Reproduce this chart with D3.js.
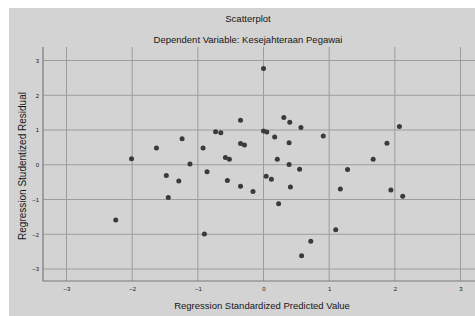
<!DOCTYPE html>
<html>
<head>
<meta charset="utf-8">
<script src="https://cdn.jsdelivr.net/npm/d3@7"></script>
<style>
  body { margin: 0; background: #fff; }
  svg text { font-family: "Liberation Sans", Arial, sans-serif; fill: #161616; }
</style>
</head>
<body>
<div id="chart"></div>
<script>
// standardized predicted value (x) vs studentized residual (y)
var predicted = [
  0.00, -0.35, 0.31, 0.40, -0.73, -0.65, 0.00, 0.05, 0.17, -1.24,
  -0.35, -0.29, 0.39, -1.63, -0.92, -2.01, -0.58, -0.52, 0.21, -1.12,
  0.39, 0.55, -1.48, -0.86, -1.29, -0.55, 0.04, 0.12, -0.35, -0.16,
  0.41, -1.45, 0.23, -2.25, -0.90, 0.57, 0.91, 2.07, 1.88, 1.67,
  1.28, 1.17, 1.94, 2.12, 1.10, 0.72, 0.58
];
var residual = [
  2.77, 1.28, 1.36, 1.22, 0.95, 0.92, 0.97, 0.94, 0.80, 0.75,
  0.61, 0.57, 0.63, 0.48, 0.48, 0.17, 0.21, 0.16, 0.16, 0.02,
  0.01, -0.13, -0.31, -0.20, -0.47, -0.45, -0.33, -0.42, -0.62, -0.77,
  -0.64, -0.94, -1.12, -1.59, -1.99, 1.07, 0.83, 1.10, 0.62, 0.16,
  -0.14, -0.70, -0.73, -0.91, -1.87, -2.20, -2.62
];
var xTicks = [-3, -2, -1, 0, 1, 2, 3];
var yTicks = [-3, -2, -1, 0, 1, 2, 3];

var title = 'Scatterplot';
var subtitle = 'Dependent Variable: Kesejahteraan Pegawai';
var xTitle = 'Regression Standardized Predicted Value';
var yTitle = 'Regression Studentized Residual';

var w = 475, h = 316;
var plot = { left: 43, top: 47, right: 475, bottom: 281 };

var svg = d3.select('#chart').append('svg')
  .attr('width', w)
  .attr('height', h);

// grey panel
svg.append('rect')
  .attr('x', 9).attr('y', 8)
  .attr('width', w - 9).attr('height', h - 8)
  .attr('fill', '#d3d3d3');

var xScale = d3.scaleLinear().domain([-3, 3]).range([66.5, 460.5]);
var yScale = d3.scaleLinear().domain([-3, 3]).range([269, 60.5]);

// grid
svg.append('g')
  .selectAll('line')
  .data(xTicks)
  .enter()
  .append('line')
  .attr('x1', function(d) { return xScale(d); })
  .attr('x2', function(d) { return xScale(d); })
  .attr('y1', plot.top)
  .attr('y2', plot.bottom)
  .attr('stroke', '#9c9c9c')
  .attr('stroke-width', 1);

svg.append('g')
  .selectAll('line')
  .data(yTicks)
  .enter()
  .append('line')
  .attr('x1', plot.left)
  .attr('x2', plot.right)
  .attr('y1', function(d) { return yScale(d); })
  .attr('y2', function(d) { return yScale(d); })
  .attr('stroke', '#9c9c9c')
  .attr('stroke-width', 1);

// frame (left + bottom)
svg.append('path')
  .attr('d', 'M' + plot.left + ',' + plot.top + 'V' + plot.bottom + 'H' + plot.right)
  .attr('fill', 'none')
  .attr('stroke', '#7a7a7a')
  .attr('stroke-width', 1.2);

// axes, only the labels
var xAxis = d3.axisBottom(xScale).tickValues(xTicks).tickSize(0).tickPadding(6)
  .tickFormat(d3.format('d'));
var gx = svg.append('g')
  .attr('transform', 'translate(0,' + plot.bottom + ')')
  .call(xAxis);
gx.select('.domain').remove();
gx.selectAll('text').style('font-size', '6px').attr('fill', '#333');

var yAxis = d3.axisLeft(yScale).tickValues(yTicks).tickSize(0).tickPadding(4)
  .tickFormat(d3.format('d'));
var gy = svg.append('g')
  .attr('transform', 'translate(' + plot.left + ',0)')
  .call(yAxis);
gy.select('.domain').remove();
gy.selectAll('text').style('font-size', '6px').attr('fill', '#333');

// points
svg.append('g')
  .selectAll('circle')
  .data(d3.range(predicted.length))
  .enter()
  .append('circle')
  .attr('cx', function(i) { return xScale(predicted[i]); })
  .attr('cy', function(i) { return yScale(residual[i]); })
  .attr('r', 2.5)
  .attr('fill', '#3a3a3a');

// titles
svg.append('text')
  .attr('x', 248).attr('y', 22)
  .attr('text-anchor', 'middle')
  .style('font-size', '9.5px')
  .text(title);

svg.append('text')
  .attr('x', 248).attr('y', 43)
  .attr('text-anchor', 'middle')
  .style('font-size', '9.5px')
  .text(subtitle);

svg.append('text')
  .attr('x', 262).attr('y', 309)
  .attr('text-anchor', 'middle')
  .style('font-size', '9.5px')
  .text(xTitle);

svg.append('text')
  .attr('transform', 'translate(26,166) rotate(-90)')
  .attr('text-anchor', 'middle')
  .style('font-size', '10px')
  .text(yTitle);
</script>
</body>
</html>
